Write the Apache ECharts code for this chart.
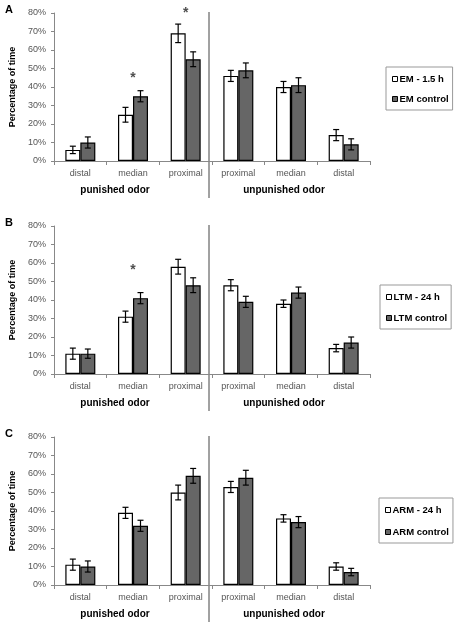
<!DOCTYPE html>
<html><head><meta charset="utf-8">
<script src="https://cdn.jsdelivr.net/npm/echarts@6/dist/echarts.min.js"></script>
<style>html,body{margin:0;padding:0;background:#fff}#c{width:454px;height:624px}</style>
</head><body><div id="c"></div>
<script>
// ---- data ----
const categories = ['distal','median','proximal','proximal','median','distal'];
const groupLabels = ['punished odor','unpunished odor'];
const yTicks = [0,10,20,30,40,50,60,70,80];
const panelLetters = ['A','B','C'];

const seriesNamesA = ['EM - 1.5 h','EM control'];
const emTest      = [6, 25, 69, 46, 40, 14];
const emTestErr   = [2, 4, 5, 3, 3, 3];
const emCtrl      = [10, 35, 55, 49, 41, 9];
const emCtrlErr   = [3, 3, 4, 4, 4, 3];
const starsA      = [[1, 45], [2, 80]];

const seriesNamesB = ['LTM - 24 h','LTM control'];
const ltmTest     = [11, 31, 58, 48, 38, 14];
const ltmTestErr  = [3, 3, 4, 3, 2, 2];
const ltmCtrl     = [11, 41, 48, 39, 44, 17];
const ltmCtrlErr  = [2.5, 3, 4, 3, 3, 3];
const starsB      = [[1, 56]];

const seriesNamesC = ['ARM - 24 h','ARM control'];
const armTest     = [11, 39, 50, 53, 36, 10];
const armTestErr  = [3, 3, 4, 3, 2, 2];
const armCtrl     = [10, 32, 59, 58, 34, 7];
const armCtrlErr  = [3, 3, 4, 4, 3, 2];
const starsC      = [];

// ---- layout ----
const FONT = '"Liberation Sans", Arial, sans-serif';
const gridLeft = 48, gridWidth = 322;
const gridTops = [13, 226, 437];
const gridH = 148;
const legendTops = [67, 285, 498];
const legendLefts = [386, 380, 379];
const legendGaps = [10, 11, 12];
const BAR_W = 15;

const panels = [
  {names: seriesNamesA, t: emTest, te: emTestErr, c: emCtrl, ce: emCtrlErr, stars: starsA},
  {names: seriesNamesB, t: ltmTest, te: ltmTestErr, c: ltmCtrl, ce: ltmCtrlErr, stars: starsB},
  {names: seriesNamesC, t: armTest, te: armTestErr, c: armCtrl, ce: armCtrlErr, stars: starsC}
];

function errRender(offset){
  return function(params, api){
    const i = api.value(0), v = api.value(1), e = api.value(2);
    const top = api.coord([i, v + e]);
    const bot = api.coord([i, v - e]);
    const x = top[0] + offset;
    const w = 3;
    const st = {stroke:'#000', lineWidth:1.2};
    return {type:'group', children:[
      {type:'line', shape:{x1:x, y1:top[1], x2:x, y2:bot[1]}, style:st},
      {type:'line', shape:{x1:x-w, y1:top[1], x2:x+w, y2:top[1]}, style:st},
      {type:'line', shape:{x1:x-w, y1:bot[1], x2:x+w, y2:bot[1]}, style:st}
    ]};
  };
}

const grid = [], xAxis = [], yAxis = [], series = [], legend = [], graphic = [];
panels.forEach((p, k) => {
  grid.push({left: gridLeft, top: gridTops[k], width: gridWidth, height: gridH});
  xAxis.push({
    type:'category', gridIndex:k, data: categories,
    axisLine:{lineStyle:{color:'#888', width:1}},
    axisTick:{show:true, length:4, lineStyle:{color:'#888'}},
    axisLabel:{fontSize:9, color:'#555', fontFamily:FONT, margin:8}
  });
  yAxis.push({
    type:'value', gridIndex:k, min: yTicks[0], max: yTicks[yTicks.length-1], interval: yTicks[1]-yTicks[0],
    name:'Percentage of time', nameLocation:'middle', nameGap:37,
    nameTextStyle:{fontSize:9, fontWeight:'bold', color:'#000', fontFamily:FONT},
    axisLine:{show:true, lineStyle:{color:'#888'}},
    axisTick:{show:true, length:3, lineStyle:{color:'#888'}},
    splitLine:{show:false},
    axisLabel:{formatter:'{value}%', fontSize:9, color:'#555', fontFamily:FONT, margin:8}
  });
  series.push({
    name: p.names[0], type:'bar', xAxisIndex:k, yAxisIndex:k, data: p.t,
    barWidth: BAR_W, barGap:'0%',
    itemStyle:{color:'#ffffff', borderColor:'#000', borderWidth:1.2}, z:2
  });
  series.push({
    name: p.names[1], type:'bar', xAxisIndex:k, yAxisIndex:k, data: p.c,
    barWidth: BAR_W, barGap:'0%',
    itemStyle:{color:'#666666', borderColor:'#000', borderWidth:1.2}, z:2
  });
  series.push({
    type:'custom', xAxisIndex:k, yAxisIndex:k, renderItem: errRender(-BAR_W/2),
    data: p.t.map((v,i)=>[i, v, p.te[i]]), encode:{x:0, y:1}, z:5, silent:true
  });
  series.push({
    type:'custom', xAxisIndex:k, yAxisIndex:k, renderItem: errRender(BAR_W/2),
    data: p.c.map((v,i)=>[i, v, p.ce[i]]), encode:{x:0, y:1}, z:5, silent:true
  });
  if (p.stars.length) series.push({
    type:'scatter', xAxisIndex:k, yAxisIndex:k, data: p.stars, symbolSize:0, clip:false,
    label:{show:true, position:'inside', formatter:'*', fontSize:14, fontWeight:'bold', color:'#222', fontFamily:FONT},
    silent:true
  });
  legend.push({
    orient:'vertical', left: legendLefts[k], top: legendTops[k],
    data:[
      {name:p.names[0], itemStyle:{color:'#fff', borderColor:'#000', borderWidth:1}},
      {name:p.names[1], itemStyle:{color:'#666', borderColor:'#000', borderWidth:1}}
    ],
    icon:'rect', itemWidth:5, itemHeight:5, itemGap: legendGaps[k],
    borderColor:'#999', borderWidth:1, padding:[7,4,6,6],
    textStyle:{fontSize:9.5, fontWeight:'bold', color:'#000', fontFamily:FONT, padding:[0,0,0,-3]},
    selectedMode:false
  });
  const gt = gridTops[k], gb = gt + gridH;
  // separator between the two odor groups
  graphic.push({type:'line', shape:{x1: gridLeft + gridWidth/2, y1: gt - 1, x2: gridLeft + gridWidth/2, y2: gb + 37},
    style:{stroke:'#444', lineWidth:1}});
  graphic.push({type:'text', x: gridLeft + 67, y: gb + 29, style:{text: groupLabels[0], fill:'#000',
    font:'bold 10px ' + FONT, textAlign:'center', textVerticalAlign:'middle'}});
  graphic.push({type:'text', x: gridLeft + 236, y: gb + 29, style:{text: groupLabels[1], fill:'#000',
    font:'bold 10px ' + FONT, textAlign:'center', textVerticalAlign:'middle'}});
  graphic.push({type:'text', x: 5, y: gt - 3, style:{text: panelLetters[k], fill:'#000',
    font:'bold 11px ' + FONT, textAlign:'left', textVerticalAlign:'middle'}});
});

const chart = echarts.init(document.getElementById('c'), null, {renderer:'canvas'});
chart.setOption({animation:false, backgroundColor:'#fff', grid, xAxis, yAxis, series, legend, graphic});
</script>
</body></html>
